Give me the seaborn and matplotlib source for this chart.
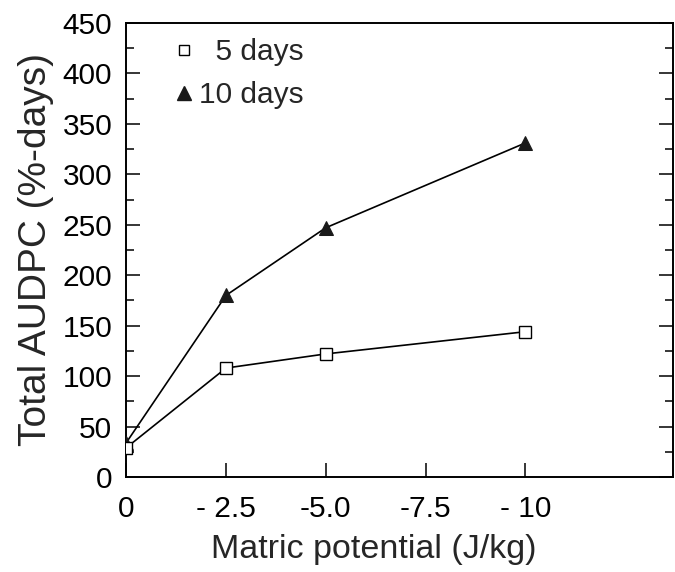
import matplotlib
matplotlib.use("Agg")
import matplotlib.pyplot as plt
from matplotlib.lines import Line2D
from matplotlib.ticker import MultipleLocator
import pandas as pd
import seaborn as sns

# === Data ===
potential = [0, -2.5, -5.0, -10]
audpc_5d = [29, 108, 122, 144]
audpc_10d = [34, 180, 247, 331]
tick_pos = [0, -2.5, -5.0, -7.5, -10]
tick_labels = ["0", "- 2.5", "-5.0", "-7.5", "- 10"]

sns.set_theme(style="ticks")
plt.rcParams["font.family"] = ["Liberation Sans", "DejaVu Sans"]

df5 = pd.DataFrame({"potential": potential, "audpc": audpc_5d})
df10 = pd.DataFrame({"potential": potential, "audpc": audpc_10d})

fig = plt.figure(figsize=(6.75, 5.72), dpi=100)
ax = fig.add_axes([0.187, 0.166, 0.81, 0.794])

sns.lineplot(data=df10, x="potential", y="audpc", ax=ax, color="black",
             linewidth=1.2, marker="^", markersize=10, markerfacecolor="#1a1a1a",
             markeredgecolor="#1a1a1a", zorder=3)
sns.lineplot(data=df5, x="potential", y="audpc", ax=ax, color="black",
             linewidth=1.2, marker="s", markersize=8, markerfacecolor="white",
             markeredgecolor="black", markeredgewidth=1.0, zorder=4)

ax.set_xlim(0, -13.7)
ax.set_ylim(0, 450)
ax.set_xticks(tick_pos)
ax.set_xticklabels(tick_labels)
ax.yaxis.set_major_locator(MultipleLocator(50))
ax.yaxis.set_minor_locator(MultipleLocator(25))

for s in ax.spines.values():
    s.set_visible(True)
    s.set_color("black")
    s.set_linewidth(1.4)

ax.tick_params(axis="y", which="both", direction="in", left=True, right=True,
               labelright=False, colors="black", labelsize=21.5, pad=10)
ax.tick_params(axis="y", which="major", length=10, width=1.1)
ax.tick_params(axis="y", which="minor", length=6, width=1.1)
ax.tick_params(axis="x", which="major", direction="in", length=10, width=1.1,
               labelsize=21.5, pad=13, colors="black")

ax.set_xlabel("Matric potential (J/kg)", fontsize=24.5, labelpad=8, x=0.453)
ax.set_ylabel("Total AUDPC (%-days)", fontsize=28, labelpad=6)

handles = [
    Line2D([], [], linestyle="none", marker="s", markersize=7,
           markerfacecolor="white", markeredgecolor="black", label="  5 days"),
    Line2D([], [], linestyle="none", marker="^", markersize=10,
           markerfacecolor="#1a1a1a", markeredgecolor="#1a1a1a", label="10 days"),
]
ax.legend(handles=handles, loc="upper left", frameon=False, fontsize=21.5,
          handlelength=0.7, handletextpad=0.15, borderaxespad=0.3,
          labelspacing=0.5, bbox_to_anchor=(0.048, 1.012))

fig.savefig("out.png", dpi=100)
